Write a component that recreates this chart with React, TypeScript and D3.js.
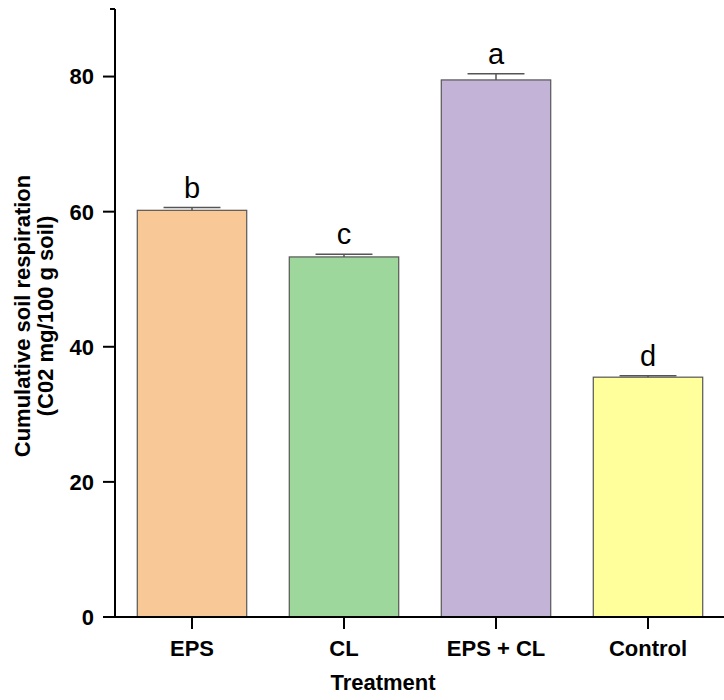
import React from "react";
import * as d3 from "d3";

const categories = ["EPS", "CL", "EPS + CL", "Control"];
const means = [60.2, 53.3, 79.5, 35.5];
const errors = [0.4, 0.4, 0.9, 0.2];
const letters = ["b", "c", "a", "d"];
const colors = ["#F9C897", "#9ED79C", "#C2B3D7", "#FFFF9C"];
const yTicks = [0, 20, 40, 60, 80];

const W = 724;
const H = 700;
const margin = {top: 9, right: 0, bottom: 83, left: 116};

const App: React.FC = () => {
    const x = d3.scaleBand<string>()
        .domain(categories)
        .range([margin.left, W - margin.right])
        .paddingInner(0.28)
        .paddingOuter(0.14);

    const y = d3.scaleLinear()
        .domain([0, 90])
        .range([H - margin.bottom, margin.top]);

    const font = "Arial, 'Liberation Sans', sans-serif";
    const bw = x.bandwidth();
    const y0 = y(0);

    return (
        <svg width={W} height={H} style={{position: "absolute", left: 0, top: 0}} fontFamily={font}>
            {/* bars */}
            {categories.map((c, i) => (
                <rect key={c}
                      x={x(c)!}
                      y={y(means[i])}
                      width={bw}
                      height={y0 - y(means[i])}
                      fill={colors[i]}
                      stroke="#555"
                      strokeWidth={1.2}/>
            ))}
            {/* error bars */}
            {categories.map((c, i) => {
                const cx = x(c)! + bw / 2;
                const top = y(means[i] + errors[i]);
                return (
                    <g key={c} stroke="#555" strokeWidth={1.5}>
                        <line x1={cx} x2={cx} y1={y(means[i])} y2={top}/>
                        <line x1={cx - bw * 0.26} x2={cx + bw * 0.26} y1={top} y2={top}/>
                    </g>
                );
            })}
            {/* significance letters */}
            {categories.map((c, i) => (
                <text key={c}
                      x={x(c)! + bw / 2}
                      y={y(means[i] + errors[i]) - 10}
                      textAnchor="middle"
                      fontSize={29}
                      fill="#000">
                    {letters[i]}
                </text>
            ))}
            {/* y axis */}
            <line x1={margin.left - 1} x2={margin.left - 1} y1={margin.top} y2={y0} stroke="#000" strokeWidth={2}/>
            <line x1={margin.left - 6} x2={margin.left - 1} y1={margin.top} y2={margin.top} stroke="#000" strokeWidth={2}/>
            {yTicks.map(t => (
                <g key={t}>
                    <line x1={margin.left - 13} x2={margin.left - 1} y1={y(t)} y2={y(t)} stroke="#000" strokeWidth={2}/>
                    <text x={margin.left - 22} y={y(t)} dy="0.36em" textAnchor="end"
                          fontSize={22} fontWeight="bold">{t}</text>
                </g>
            ))}
            {/* x axis */}
            <line x1={margin.left - 13} x2={W} y1={y0} y2={y0} stroke="#000" strokeWidth={2}/>
            {categories.map(c => (
                <g key={c}>
                    <line x1={x(c)! + bw / 2} x2={x(c)! + bw / 2} y1={y0} y2={y0 + 12} stroke="#000" strokeWidth={2}/>
                    <text x={x(c)! + bw / 2} y={y0 + 39} textAnchor="middle"
                          fontSize={22} fontWeight="bold">{c}</text>
                </g>
            ))}
            {/* axis titles */}
            <text x={383} y={690} textAnchor="middle" fontSize={22} fontWeight="bold">Treatment</text>
            <g transform={`translate(0, 316) rotate(-90)`}>
                <text x={0} y={30} textAnchor="middle" fontSize={22} fontWeight="bold">Cumulative soil respiration</text>
                <text x={0} y={53} textAnchor="middle" fontSize={22} fontWeight="bold">(C02 mg/100 g soil)</text>
            </g>
        </svg>
    );
};

export default App;
